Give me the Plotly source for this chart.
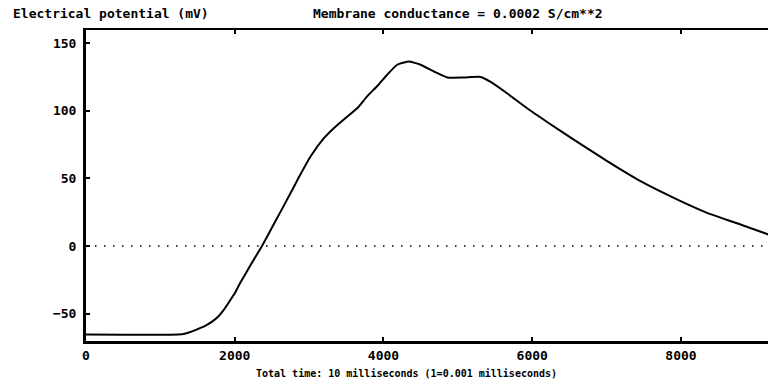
import plotly.graph_objects as go

# Data
time_ms = [0, 1240, 1340, 1445, 1540, 1626, 1700, 1782, 1850, 1917, 2000, 2074,
           2209, 2366, 2490, 2613, 2740, 2855, 3017, 3196, 3350, 3511, 3650,
           3780, 3920, 4049, 4184, 4341, 4499, 4678, 4858, 5082, 5306, 5441,
           5666, 5935, 6205, 6563, 7013, 7462, 7910, 8359, 8808, 9185]
potential_mv = [-65.5, -65.5, -64.7, -62.8, -60.6, -58.3, -55.8, -52.0, -47.5, -42.0, -35.0, -27.3,
                -14.5, 0.0, 12.5, 25.0, 38.0, 50.0, 66.0, 79.5, 88.0, 95.5, 102.0,
                110.6, 118.5, 126.6, 134.0, 136.4, 134.0, 129.0, 124.6, 124.6, 125.0, 121.3,
                112.7, 101.6, 91.5, 78.5, 62.5, 47.7, 35.4, 24.3, 15.7, 8.3]
zero_x = [0, 9200]
zero_y = [0, 0]
x_ticks = [0, 2000, 4000, 6000, 8000]
y_ticks = [-50, 0, 50, 100, 150]

FONT = "DejaVu Sans Mono"

fig = go.Figure()
fig.add_trace(go.Scatter(x=zero_x, y=zero_y, mode="lines",
                         line=dict(color="black", width=1.5, dash="1.5px,7.5px"),
                         hoverinfo="skip", showlegend=False))
fig.add_trace(go.Scatter(x=time_ms, y=potential_mv, mode="lines",
                         line=dict(color="black", width=2, shape="spline", smoothing=0.4),
                         showlegend=False))
# invisible trace on top axis for mirrored tick marks
fig.add_trace(go.Scatter(x=[0], y=[0], xaxis="x2", mode="markers",
                         marker=dict(opacity=0), showlegend=False, hoverinfo="skip"))

fig.update_layout(
    width=768, height=385,
    margin=dict(l=86, r=0, t=30, b=44),
    paper_bgcolor="white", plot_bgcolor="white",
    font=dict(family=FONT, size=12, color="black", weight="bold"),
    xaxis=dict(range=[0, 9170], tickvals=x_ticks, ticks="inside", ticklen=4,
               tickwidth=2, tickcolor="black", showgrid=False, zeroline=False,
               showline=True, linewidth=3, linecolor="black",
               tickfont=dict(family=FONT, size=13, weight="bold")),
    xaxis2=dict(range=[0, 9170], overlaying="x", side="top", tickvals=x_ticks,
                ticks="inside", ticklen=4, tickwidth=2, tickcolor="black",
                showticklabels=False, showgrid=False, zeroline=False,
                showline=True, linewidth=2, linecolor="black"),
    yaxis=dict(range=[-70.3, 159.7], tickvals=y_ticks, ticks="inside", ticklen=4,
               tickwidth=2, tickcolor="black", showgrid=False, zeroline=False,
               showline=True, linewidth=3, linecolor="black",
               ticklabelstandoff=4,
               tickfont=dict(family=FONT, size=13, weight="bold")),
    annotations=[
        dict(text="Electrical potential (mV)", xref="paper", yref="paper",
             x=(11 - 86) / 682, y=1 + 17/311, xanchor="left", yanchor="middle",
             showarrow=False, font=dict(family=FONT, size=13, weight="bold")),
        dict(text="Membrane conductance = 0.0002 S/cm**2", xref="paper", yref="paper",
             x=(311 - 86) / 682, y=1 + 17/311, xanchor="left", yanchor="middle",
             showarrow=False, font=dict(family=FONT, size=13, weight="bold")),
        dict(text="Total time: 10 milliseconds (1=0.001 milliseconds)", xref="paper",
             yref="paper", x=(406 - 86) / 682, y=-32/311, xanchor="center",
             yanchor="middle", showarrow=False,
             font=dict(family=FONT, size=10, weight="bold")),
    ],
)

fig.write_html("out.html")
